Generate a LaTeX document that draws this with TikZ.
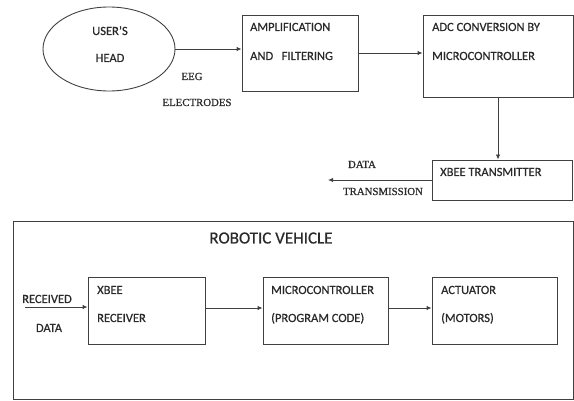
\documentclass[tikz,border=0pt]{standalone}
\usepackage{fontspec}
\setmainfont{Carlito}[FakeBold=0.6]
\newfontfamily\serifl{Liberation Serif}[FakeBold=0.8]
\usetikzlibrary{shapes.geometric,arrows.meta}
\definecolor{ln}{HTML}{404040}
\definecolor{tx}{HTML}{2A2A2A}
\begin{document}
\begin{tikzpicture}[x=1pt,y=-1pt,
  box/.style={draw=ln,line width=0.9pt,inner sep=0pt,fill=none},
  lbl/.style={anchor=base west,inner sep=0pt,text=tx,font=\fontsize{12.5}{14}\selectfont},
  clbl/.style={anchor=base,inner sep=0pt,text=tx,font=\fontsize{12.5}{14}\selectfont},
  slbl/.style={anchor=base,inner sep=0pt,text=tx,font=\serifl\fontsize{10.8}{12}\selectfont},
  arr/.style={draw=ln,line width=0.9pt,-{Latex[length=5pt,width=4.5pt]}}]
\useasboundingbox (0,0) rectangle (574,401);
% top row
\node[box,ellipse,minimum width=132pt,minimum height=84pt] (head) at (109,49) {};
\node[clbl] (t1) at (110,35) {USER’S};
\node[clbl] (t2) at (110,62) {HEAD};
\node[box,minimum width=116pt,minimum height=76pt] (amp) at (300,53) {};
\node[lbl] (t3) at (250,31) {AMPLIFICATION};
\node[lbl] (t4) at (250,60) {AND\ \ \ FILTERING};
\node[box,minimum width=150pt,minimum height=82pt] (adc) at (498,56) {};
\node[lbl] (t5) at (432,31) {ADC CONVERSION BY};
\node[lbl] (t6) at (432,60) {MICROCONTROLLER};
\node[box,minimum width=140pt,minimum height=40pt] (xtx) at (502.5,180) {};
\node[lbl] (t7) at (440,176) {XBEE TRANSMITTER};
\coordinate (txend) at (328,180);
\node[slbl] (eeg) at (192,80) {EEG};
\node[slbl] (el) at (197,106) {ELECTRODES};
\node[slbl] (dt) at (362,168) {DATA};
\node[slbl] (trm) at (383,195) {TRANSMISSION};
\draw[arr] (head.east) -- (amp.west |- head.east);
\draw[arr] (amp.east) -- (adc.west |- amp.east);
\draw[arr] (adc.south) -- (xtx.north -| adc.south);
\draw[arr] (xtx.west) -- (txend);
% bottom
\node[box,minimum width=560pt,minimum height=178pt] (veh) at (293,310) {};
\node[anchor=base,inner sep=0pt,text=tx,font=\fontsize{17}{20}\selectfont] (vt) at (271,243.5) {ROBOTIC VEHICLE};
\node[box,minimum width=117pt,minimum height=67pt] (rx) at (146.5,310.5) {};
\node[lbl] (t8) at (97,294) {XBEE};
\node[lbl] (t9) at (97,322) {RECEIVER};
\node[box,minimum width=125pt,minimum height=67pt] (mc) at (325.5,310.5) {};
\node[lbl] (t10) at (271,294) {MICROCONTROLLER};
\node[lbl] (t11) at (271,322) {(PROGRAM CODE)};
\node[box,minimum width=125pt,minimum height=67pt] (act) at (494.5,310.5) {};
\node[lbl] (t12) at (441,294) {ACTUATOR};
\node[lbl] (t13) at (441,322) {(MOTORS)};
\coordinate (rin) at (25,307);
\node[clbl] (rc) at (47,303) {RECEIVED};
\node[clbl] (rd) at (49,332) {DATA};
\draw[arr] (rin) -- (rx.west |- rin);
\draw[arr] (rx.east |- 0,308) -- (mc.west |- 0,308);
\draw[arr] (mc.east |- 0,308) -- (act.west |- 0,308);
\end{tikzpicture}
\end{document}
